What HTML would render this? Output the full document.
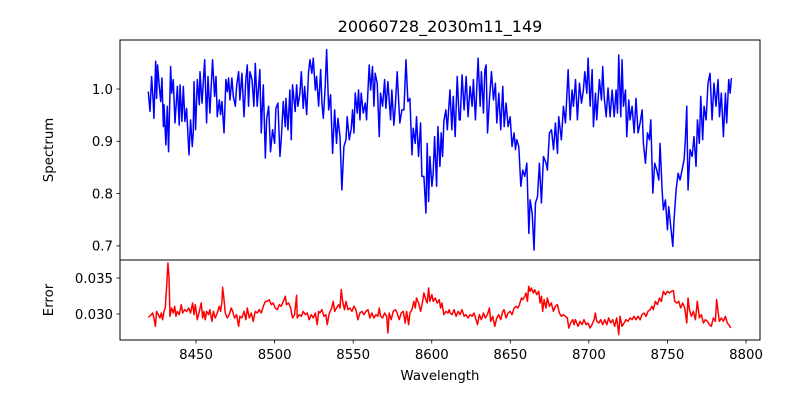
<!DOCTYPE html>
<html><head><meta charset="utf-8"><style>
html,body{margin:0;padding:0;background:#fff;}
svg text{font-family:"DejaVu Sans","Liberation Sans",sans-serif;fill:#000;}
</style></head><body>
<svg id="chart" width="800" height="400" viewBox="0 0 800 400" xmlns="http://www.w3.org/2000/svg">
<rect x="0" y="0" width="800" height="400" fill="#fff"/>
<text x="440" y="32" font-size="16" text-anchor="middle">20060728_2030m11_149</text>
<g id="gtop"></g><g id="gbot"></g>
<rect x="120" y="40" width="640" height="220" fill="none" stroke="#000" stroke-width="1"/>
<rect x="120" y="260" width="640" height="80" fill="none" stroke="#000" stroke-width="1"/>
<text transform="translate(53,150) rotate(-90)" font-size="13.3" text-anchor="middle">Spectrum</text>
<text transform="translate(53,300) rotate(-90)" font-size="13.3" text-anchor="middle">Error</text>
<text x="440" y="380" font-size="13.3" text-anchor="middle">Wavelength</text>
<g id="gaxes"></g>
</svg>
<script>
const waveS=[8419.6,8420.7,8421.7,8422.8,8423.2,8424.3,8424.9,8425.5,8426.6,8427.5,8428.3,8429.2,8429.6,8430.8,8431.7,8432.5,8433.8,8434.5,8435.5,8436.6,8438.1,8439.3,8439.8,8441.0,8441.9,8442.9,8444.0,8445.5,8446.5,8447.6,8448.2,8448.7,8449.7,8450.8,8452.1,8452.5,8453.8,8455.5,8456.7,8457.6,8458.8,8460.5,8461.8,8462.7,8463.5,8464.8,8465.6,8466.5,8467.8,8469.0,8469.9,8470.7,8471.6,8472.8,8473.7,8475.0,8475.8,8477.1,8477.9,8479.2,8480.5,8481.7,8482.6,8483.4,8484.3,8485.6,8486.8,8487.7,8488.9,8490.6,8491.5,8492.8,8494.1,8494.9,8496.2,8497.4,8498.7,8500.0,8500.8,8502.1,8503.4,8504.2,8505.5,8506.8,8507.2,8508.5,8509.7,8510.6,8511.4,8513.1,8514.0,8514.8,8516.1,8517.0,8518.2,8519.1,8520.4,8521.6,8522.5,8523.7,8524.6,8525.9,8526.7,8528.0,8529.3,8530.1,8531.0,8532.2,8533.1,8534.4,8535.6,8536.9,8538.2,8539.4,8540.3,8541.6,8542.8,8544.1,8545.4,8546.2,8547.5,8548.8,8549.6,8550.5,8551.3,8552.6,8553.4,8554.3,8555.1,8556.4,8557.7,8558.5,8560.2,8561.1,8562.3,8563.2,8564.0,8565.3,8566.6,8567.4,8568.7,8570.0,8570.8,8572.1,8572.9,8573.8,8574.6,8575.9,8576.8,8578.0,8578.9,8579.7,8581.0,8582.3,8583.6,8584.8,8586.1,8587.4,8588.2,8589.5,8590.3,8591.6,8592.9,8593.7,8595.0,8596.3,8597.1,8598.0,8598.8,8600.1,8600.9,8601.8,8603.1,8603.9,8605.2,8606.0,8606.9,8607.7,8609.0,8609.9,8611.6,8612.8,8613.7,8614.9,8616.2,8617.5,8618.1,8619.3,8620.6,8621.9,8623.1,8624.4,8625.7,8626.5,8627.8,8629.5,8630.8,8631.6,8632.9,8633.8,8634.6,8635.5,8636.7,8638.0,8639.3,8640.5,8641.4,8642.7,8643.9,8645.2,8646.1,8647.3,8648.6,8649.9,8651.1,8652.4,8653.3,8654.1,8655.4,8656.7,8657.9,8659.2,8660.5,8661.8,8662.6,8663.9,8665.1,8666.0,8667.3,8668.5,8669.8,8671.1,8672.8,8673.6,8674.9,8676.2,8677.5,8678.7,8680.0,8680.8,8682.5,8683.8,8685.1,8686.8,8688.1,8689.3,8690.2,8691.5,8692.7,8694.0,8695.3,8696.5,8697.4,8698.7,8699.5,8700.8,8702.1,8702.9,8704.2,8705.0,8706.7,8708.0,8708.8,8709.7,8711.0,8712.2,8713.5,8714.8,8716.1,8717.3,8718.2,8719.0,8720.3,8721.1,8722.0,8723.3,8724.1,8725.4,8726.2,8727.5,8728.8,8730.0,8731.3,8732.6,8733.9,8734.7,8736.0,8737.3,8738.5,8739.4,8740.7,8741.9,8743.2,8744.5,8745.3,8746.6,8747.4,8748.7,8750.0,8750.8,8752.1,8753.4,8754.2,8755.5,8756.8,8758.0,8759.3,8760.6,8761.4,8762.3,8763.1,8764.4,8765.7,8766.9,8768.2,8769.1,8770.3,8771.2,8772.4,8773.3,8774.6,8775.8,8777.1,8778.4,8779.6,8780.9,8782.2,8783.1,8784.3,8785.6,8786.9,8787.7,8789.0,8789.9,8790.7];
const flux=[0.995,0.957,1.024,0.973,0.944,1.053,0.982,1.046,1.005,0.976,1.021,0.928,0.970,0.893,0.967,0.880,1.043,0.992,1.018,0.935,1.005,0.931,1.008,0.938,1.005,0.938,0.963,0.874,0.941,0.890,0.916,1.014,0.922,1.018,0.970,1.033,0.973,1.056,0.935,1.024,0.954,1.056,0.986,1.024,0.947,0.979,0.951,0.976,0.916,1.018,0.995,1.021,0.979,1.021,0.986,0.967,1.005,1.033,0.979,1.030,0.947,1.018,1.046,0.967,1.033,1.018,0.967,1.049,0.967,1.037,0.916,1.008,0.868,0.941,0.967,0.880,0.922,0.896,0.963,0.973,0.871,0.903,0.976,0.928,0.982,0.922,0.998,0.903,1.008,0.957,1.008,0.967,0.992,1.033,0.963,1.005,0.951,1.033,1.056,1.030,1.059,0.998,1.024,0.967,1.037,0.973,0.944,1.005,1.075,0.960,0.989,0.877,0.960,0.896,0.944,0.909,0.807,0.890,0.903,0.947,0.903,0.925,0.960,0.916,0.992,0.954,0.998,0.941,0.992,0.954,0.973,0.941,1.046,0.998,1.043,0.967,1.030,1.011,0.909,0.992,0.967,1.018,0.963,1.014,0.979,0.941,0.998,0.931,0.967,1.033,0.979,0.935,0.960,0.960,1.056,0.976,0.982,0.874,0.925,0.896,0.947,0.871,0.935,0.833,0.833,0.763,0.896,0.785,0.871,0.814,0.839,0.909,0.814,0.928,0.852,0.916,0.871,0.938,0.960,0.922,0.998,0.922,0.986,0.909,1.024,0.941,0.941,1.027,0.960,1.024,0.947,1.005,0.967,1.018,0.941,1.059,0.967,1.033,0.954,1.037,1.046,0.916,0.979,1.033,0.979,1.011,0.935,0.992,0.922,1.005,0.928,0.973,0.928,0.947,0.890,0.916,0.884,0.903,0.890,0.814,0.845,0.833,0.858,0.724,0.788,0.763,0.692,0.782,0.794,0.858,0.782,0.871,0.858,0.845,0.916,0.922,0.884,0.935,0.877,0.947,0.903,0.967,0.935,1.037,0.941,0.998,0.967,1.018,0.941,1.011,0.973,0.998,1.033,0.992,1.059,0.967,1.037,0.928,0.992,0.941,1.018,0.979,1.043,0.986,0.947,1.002,0.947,0.998,0.947,0.998,0.954,1.065,0.947,1.056,0.967,0.998,0.909,0.979,0.941,0.967,0.916,0.982,0.916,0.935,0.960,0.896,0.858,0.916,0.903,0.941,0.801,0.858,0.845,0.826,0.896,0.807,0.769,0.788,0.731,0.775,0.737,0.699,0.750,0.807,0.839,0.826,0.845,0.865,0.903,0.967,0.807,0.884,0.871,0.909,0.852,0.941,0.896,0.986,0.903,0.967,0.941,1.011,1.030,0.941,1.011,0.967,1.018,0.947,0.992,0.909,0.992,0.935,1.018,0.992,1.021];
const waveE=[8419.6,8421.1,8422.4,8423.2,8424.1,8424.9,8426.0,8427.0,8427.9,8428.7,8429.6,8430.4,8431.3,8432.1,8432.8,8433.4,8434.4,8435.5,8436.4,8437.2,8438.1,8439.3,8440.6,8441.5,8442.7,8444.0,8445.3,8446.5,8447.8,8448.7,8449.5,8450.8,8452.1,8453.3,8454.2,8455.0,8455.9,8456.7,8458.0,8458.8,8460.1,8461.0,8462.2,8463.5,8464.8,8465.6,8466.5,8466.9,8467.7,8468.6,8469.9,8471.1,8472.4,8473.3,8474.5,8475.8,8477.1,8477.9,8479.2,8480.5,8481.7,8482.6,8483.9,8485.1,8486.4,8487.7,8488.9,8490.2,8491.5,8492.8,8494.1,8495.3,8496.6,8497.9,8499.1,8500.4,8501.7,8503.0,8504.2,8505.5,8506.8,8507.6,8508.9,8510.2,8511.4,8512.7,8514.0,8514.4,8515.7,8517.0,8518.2,8519.5,8520.8,8522.0,8523.3,8524.6,8525.9,8527.1,8528.0,8528.8,8530.1,8531.4,8532.6,8533.5,8534.8,8536.0,8537.3,8538.2,8539.4,8540.7,8541.6,8542.4,8543.3,8544.5,8545.4,8546.7,8547.9,8549.2,8550.5,8551.7,8553.0,8554.3,8555.6,8556.8,8558.1,8559.4,8560.6,8561.9,8563.2,8564.5,8565.7,8566.6,8567.4,8568.7,8570.0,8571.3,8572.1,8572.9,8574.2,8575.5,8576.8,8578.0,8579.3,8580.6,8581.9,8583.1,8584.0,8585.3,8586.1,8587.4,8588.6,8589.5,8590.3,8591.6,8592.9,8594.2,8595.0,8595.9,8597.1,8598.0,8598.8,8600.1,8600.9,8602.2,8603.5,8604.8,8605.6,8606.5,8607.7,8609.0,8610.3,8611.1,8611.7,8612.9,8614.2,8615.5,8616.8,8618.0,8619.3,8620.6,8621.8,8623.1,8624.4,8625.7,8626.9,8628.2,8629.1,8630.3,8631.6,8632.9,8634.1,8635.4,8636.7,8637.5,8638.8,8640.1,8641.4,8642.6,8643.9,8645.2,8646.0,8647.3,8648.6,8649.8,8651.1,8652.4,8653.7,8654.9,8655.8,8657.1,8657.9,8659.2,8660.0,8660.9,8661.7,8662.6,8663.4,8664.7,8665.5,8666.8,8668.1,8668.9,8669.8,8670.6,8671.5,8672.7,8673.6,8674.9,8676.1,8677.4,8678.7,8680.0,8681.2,8682.5,8683.8,8685.0,8686.3,8687.2,8688.4,8689.7,8690.6,8691.4,8692.3,8693.1,8694.4,8695.7,8696.9,8698.2,8699.5,8700.7,8702.0,8703.3,8704.1,8705.0,8706.3,8707.5,8708.8,8710.1,8711.4,8712.6,8713.9,8715.2,8716.4,8717.7,8719.0,8719.8,8721.1,8722.4,8723.7,8724.9,8726.2,8727.5,8728.7,8730.0,8731.3,8732.6,8733.8,8735.1,8736.4,8737.6,8738.9,8740.2,8741.0,8742.3,8743.6,8744.9,8746.1,8747.4,8748.7,8750.0,8751.2,8752.5,8753.8,8754.6,8755.9,8757.2,8758.4,8759.7,8761.0,8762.3,8763.1,8764.0,8765.2,8766.5,8767.8,8769.0,8770.3,8771.6,8772.9,8774.1,8775.4,8776.7,8777.9,8779.2,8780.5,8781.3,8782.2,8783.0,8784.3,8785.6,8786.9,8788.1,8789.0,8790.3];
const errv=[0.02954,0.02982,0.03014,0.02945,0.02829,0.03037,0.02991,0.02945,0.03014,0.02921,0.03037,0.03083,0.03384,0.03709,0.03500,0.02968,0.03083,0.03014,0.03107,0.02968,0.03037,0.02991,0.03130,0.03014,0.03060,0.03037,0.03083,0.03014,0.03153,0.02991,0.03130,0.02921,0.03037,0.03153,0.02945,0.03037,0.02921,0.03037,0.02991,0.03060,0.02898,0.03037,0.02945,0.03014,0.03107,0.03037,0.03176,0.03371,0.03222,0.03014,0.02945,0.02991,0.03083,0.03037,0.02945,0.02991,0.02829,0.02968,0.02945,0.03037,0.02921,0.03083,0.02945,0.03014,0.02898,0.03037,0.03014,0.03060,0.03014,0.03107,0.03176,0.03176,0.03199,0.03130,0.03153,0.03083,0.03060,0.03130,0.03107,0.03176,0.03246,0.03130,0.03153,0.03083,0.02945,0.02991,0.03259,0.02945,0.02991,0.02968,0.03037,0.02991,0.03014,0.02921,0.02991,0.02945,0.03014,0.02852,0.03037,0.03014,0.03060,0.02968,0.02991,0.02852,0.03014,0.03060,0.03176,0.03037,0.03083,0.03130,0.03083,0.03338,0.03176,0.03060,0.03176,0.03060,0.03083,0.03037,0.03107,0.03060,0.02921,0.03014,0.03037,0.02991,0.03037,0.03060,0.02945,0.03014,0.02945,0.02991,0.02968,0.03083,0.02968,0.02945,0.03014,0.02968,0.02736,0.03014,0.02921,0.03037,0.03060,0.03014,0.02921,0.03014,0.03037,0.02875,0.03037,0.02852,0.03014,0.03060,0.03176,0.03083,0.03222,0.03153,0.03037,0.03176,0.03292,0.03222,0.03153,0.03361,0.03176,0.03269,0.03176,0.03222,0.03153,0.03199,0.03083,0.03153,0.02991,0.03037,0.03014,0.03060,0.03014,0.02991,0.03060,0.02968,0.03037,0.02991,0.03060,0.02968,0.02991,0.02945,0.02991,0.02968,0.03014,0.02921,0.02852,0.02991,0.02921,0.03014,0.02945,0.02991,0.03083,0.02898,0.02968,0.02829,0.02945,0.02991,0.02921,0.03037,0.03060,0.02945,0.03014,0.03037,0.02991,0.03083,0.03107,0.03083,0.03130,0.03222,0.03199,0.03246,0.03292,0.03176,0.03384,0.03315,0.03361,0.03292,0.03338,0.03269,0.03315,0.03153,0.03246,0.03037,0.03199,0.03083,0.03222,0.03107,0.03153,0.03037,0.03107,0.03130,0.03014,0.02968,0.02991,0.02968,0.02945,0.02806,0.02875,0.02921,0.02852,0.02921,0.02875,0.02829,0.02898,0.02852,0.02921,0.02852,0.02875,0.02806,0.02852,0.02921,0.03014,0.02898,0.02875,0.02921,0.02852,0.02921,0.02852,0.02945,0.02875,0.02921,0.02829,0.02945,0.02713,0.02968,0.02829,0.02875,0.02921,0.02898,0.02945,0.02921,0.02968,0.02921,0.02968,0.02921,0.02991,0.03014,0.02968,0.03037,0.03060,0.03107,0.03060,0.03176,0.03130,0.03222,0.03176,0.03315,0.03269,0.03315,0.03292,0.03315,0.03324,0.03176,0.03153,0.03176,0.03083,0.03153,0.03083,0.02875,0.03222,0.03060,0.02968,0.03037,0.02921,0.03176,0.02945,0.02991,0.02875,0.02921,0.02898,0.02852,0.02829,0.02945,0.02898,0.03199,0.03037,0.02898,0.02945,0.02898,0.02968,0.02875,0.02852,0.02806];
const xTicks=[8450,8500,8550,8600,8650,8700,8750,8800];
const yTicksS=[0.7,0.8,0.9,1.0];
const yTicksE=[0.030,0.035];

const NS='http://www.w3.org/2000/svg';
const xMin=8401.6,xMax=8808.9;
function xs(w){return 120+(w-xMin)/(xMax-xMin)*640;}
function ysS(v){return 89+(1.0-v)*523;}
function ysE(e){return 314-(e-0.030)*7200;}
function mk(tag,attrs,parent){const el=document.createElementNS(NS,tag);for(const k in attrs)el.setAttribute(k,attrs[k]);parent.appendChild(el);return el;}

const gTop=document.getElementById('gtop'),gBot=document.getElementById('gbot'),gAxes=document.getElementById('gaxes');
let d='';
for(let i=0;i<waveS.length;i++){d+=(i?'L':'M')+xs(waveS[i]).toFixed(2)+','+ysS(flux[i]).toFixed(2);}
const p1=mk('path',{d:d,fill:'none',stroke:'#0000ff','stroke-width':1.5,'stroke-linejoin':'round'},gTop);


d='';
for(let i=0;i<waveE.length;i++){d+=(i?'L':'M')+xs(waveE[i]).toFixed(2)+','+ysE(errv[i]).toFixed(2);}
const p2=mk('path',{d:d,fill:'none',stroke:'#ff0000','stroke-width':1.5,'stroke-linejoin':'round'},gBot);



xTicks.forEach(t=>{
  const x=xs(t);
  const l=mk('line',{x1:x,x2:x,y1:340,y2:343.5,stroke:'#000','stroke-width':0.8},gAxes);
  
  
  const tx=mk('text',{x:x,y:359,'font-size':13.3,'text-anchor':'middle'},gAxes);
  tx.textContent=t;
  
  
});
yTicksS.forEach(t=>{
  const y=ysS(t);
  const l=mk('line',{x1:116.5,x2:120,y1:y,y2:y,stroke:'#000','stroke-width':0.8},gAxes);
  
  
  const tx=mk('text',{x:113,y:y+4.8,'font-size':13.3,'text-anchor':'end'},gAxes);
  tx.textContent=t.toFixed(1);
  
  
});
yTicksE.forEach(t=>{
  const y=ysE(t);
  const l=mk('line',{x1:116.5,x2:120,y1:y,y2:y,stroke:'#000','stroke-width':0.8},gAxes);
  
  
  const tx=mk('text',{x:113,y:y+4.8,'font-size':13.3,'text-anchor':'end'},gAxes);
  tx.textContent=t.toFixed(3);
  
  
});
</script>
</body></html>
